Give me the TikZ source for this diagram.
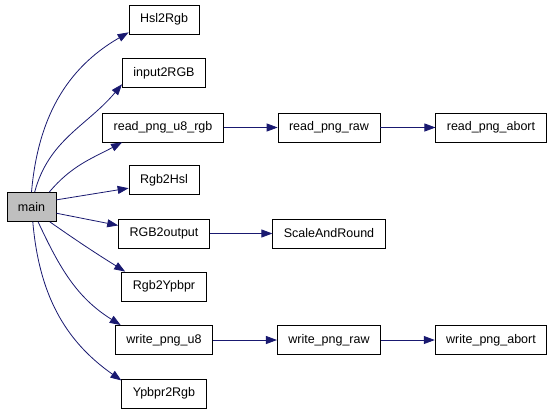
\documentclass[tikz,border=0pt]{standalone}
\usepackage{fontspec}
\setmainfont{Liberation Sans}
\usetikzlibrary{arrows.meta}
\definecolor{edgeblue}{HTML}{191970}
\tikzset{
  fn/.style={draw=black,line width=0.8pt,fill=white,minimum height=29pt,inner xsep=11pt,font=\fontsize{12.5}{14}\selectfont},
  call/.style={draw=edgeblue,line width=0.8pt,-{Triangle[length=11pt,width=8pt,fill=edgeblue]}}
}

\begin{document}
\begin{tikzpicture}[x=1pt,y=-1pt]
\useasboundingbox (0,0) rectangle (552,413);
\node[fn,fill=gray!50] (main) at (31.5,207) {main};

\node[fn] (Hsl2Rgb) at (164,19.5) {Hsl2Rgb};
\node[fn] (input2RGB) at (164,73) {input2RGB};
\node[fn] (readU8) at (163,127.5) {read\_png\_u8\_rgb};
\node[fn] (Rgb2Hsl) at (164,180) {Rgb2Hsl};
\node[fn] (RGB2output) at (164,233.5) {RGB2output};
\node[fn] (Rgb2Ypbpr) at (164,286.5) {Rgb2Ypbpr};
\node[fn] (writeU8) at (164,340) {write\_png\_u8};
\node[fn] (Ypbpr2Rgb) at (164,393.5) {Ypbpr2Rgb};

\node[fn] (readRaw) at (329,127.5) {read\_png\_raw};
\node[fn] (ScaleAndRound) at (329,233.5) {ScaleAndRound};
\node[fn] (writeRaw) at (329,340) {write\_png\_raw};

\node[fn] (readAbort) at (491,127.5) {read\_png\_abort};
\node[fn] (writeAbort) at (491,340) {write\_png\_abort};

\draw[call] (main.north) to[out=85,in=210] (Hsl2Rgb.200);
\draw[call] (main.78) to[out=75,in=230] (input2RGB.195);
\draw[call] (main.40) to[out=50,in=208] (readU8.200);
\draw[call] (main.16) -- (Rgb2Hsl.193);
\draw[call] (main.-14) -- (RGB2output.170);
\draw[call] (main.-39) to[out=-35,in=148] (Rgb2Ypbpr.159);
\draw[call] (main.-66) to[out=-65,in=148] (writeU8.161);
\draw[call] (main.-85) to[out=-85,in=145] (Ypbpr2Rgb.163);

\draw[call] (readU8) -- (readRaw);
\draw[call] (readRaw) -- (readAbort);
\draw[call] (RGB2output) -- (ScaleAndRound);
\draw[call] (writeU8) -- (writeRaw);
\draw[call] (writeRaw) -- (writeAbort);
\end{tikzpicture}
\end{document}
